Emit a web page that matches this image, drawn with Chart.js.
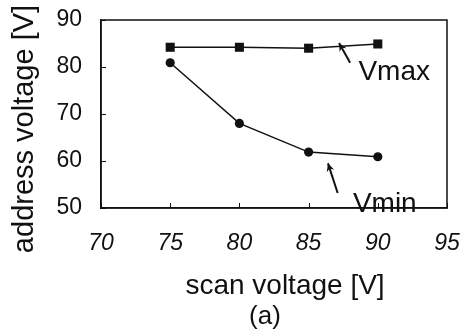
<!DOCTYPE html>
<html>
<head>
<meta charset="utf-8">
<script src="https://cdn.jsdelivr.net/npm/chart.js@4/dist/chart.umd.min.js"></script>
<style>
html,body{margin:0;padding:0;background:#fff;}
#wrap{width:465px;height:334px;}
</style>
</head>
<body>
<div id="wrap"><canvas id="c" width="465" height="334"></canvas></div>
<script>
// Data
const scanVoltage = [75, 80, 85, 90];
const vmaxValues = [84.2, 84.2, 84.0, 84.9];
const vminValues = [80.9, 68.0, 61.9, 60.9];
const xTicks = [70, 75, 80, 85, 90, 95];
const yTicks = [50, 60, 70, 80, 90];
const xTitle = 'scan voltage [V]';
const yTitle = 'address voltage [V]';
const subLabel = '(a)';
// Annotation labels and arrows (data coordinates)
const annoLabels = ['Vmax', 'Vmin'];
const annoLabelPos = [[88.6, 77.2], [88.2, 49.15]];
const arrowTails = [[88.0, 80.9], [87.1, 53.2]];
const arrowTips = [[87.2, 85.1], [86.4, 59.5]];

const FONT = '"Liberation Sans", Arial, sans-serif';
const INK = '#111';

const framePlugin = {
  id: 'frame',
  afterDraw(chart) {
    const {ctx, chartArea: a, scales: {x, y}} = chart;
    ctx.save();
    ctx.strokeStyle = INK;
    ctx.lineWidth = 1.5;
    ctx.strokeRect(a.left, a.top, a.right - a.left, a.bottom - a.top);
    // inward tick marks
    ctx.lineWidth = 1;
    xTicks.forEach(v => {
      const px = Math.round(x.getPixelForValue(v)) + 0.5;
      ctx.beginPath(); ctx.moveTo(px, a.bottom); ctx.lineTo(px, a.bottom - 5); ctx.stroke();
    });
    yTicks.forEach(v => {
      const py = Math.round(y.getPixelForValue(v)) + 0.5;
      ctx.beginPath(); ctx.moveTo(a.left, py); ctx.lineTo(a.left + 5, py); ctx.stroke();
    });
    // arrows
    ctx.lineWidth = 2;
    arrowTails.forEach((t, i) => {
      const x0 = x.getPixelForValue(t[0]), y0 = y.getPixelForValue(t[1]);
      const x1 = x.getPixelForValue(arrowTips[i][0]), y1 = y.getPixelForValue(arrowTips[i][1]);
      ctx.beginPath(); ctx.moveTo(x0, y0); ctx.lineTo(x1, y1); ctx.stroke();
      const ang = Math.atan2(y1 - y0, x1 - x0);
      const hl = 9, hw = 0.45;
      ctx.beginPath();
      ctx.moveTo(x1, y1);
      ctx.lineTo(x1 - hl * Math.cos(ang - hw), y1 - hl * Math.sin(ang - hw));
      ctx.lineTo(x1 - hl * 0.6 * Math.cos(ang), y1 - hl * 0.6 * Math.sin(ang));
      ctx.lineTo(x1 - hl * Math.cos(ang + hw), y1 - hl * Math.sin(ang + hw));
      ctx.closePath();
      ctx.fillStyle = INK;
      ctx.fill();
    });
    // annotation labels
    ctx.fillStyle = INK;
    ctx.font = '28px ' + FONT;
    ctx.textAlign = 'left';
    ctx.textBaseline = 'alphabetic';
    annoLabels.forEach((s, i) => {
      ctx.fillText(s, x.getPixelForValue(annoLabelPos[i][0]), y.getPixelForValue(annoLabelPos[i][1]));
    });
    // x title and sub label
    const cx = (a.left + a.right) / 2;
    ctx.textAlign = 'center';
    ctx.font = '28px ' + FONT;
    ctx.fillText(xTitle, cx + 11, a.bottom + 86);
    ctx.font = '26px ' + FONT;
    ctx.fillText(subLabel, cx - 9, a.bottom + 116);
    // y title
    ctx.save();
    ctx.translate(a.left - 76, (a.top + a.bottom) / 2 + 15);
    ctx.rotate(-Math.PI / 2);
    ctx.textBaseline = 'middle';
    ctx.font = '29px ' + FONT;
    ctx.fillText(yTitle, 0, 0);
    ctx.restore();
    ctx.restore();
  }
};

new Chart(document.getElementById('c'), {
  type: 'line',
  data: {
    datasets: [
      {
        label: 'Vmax',
        data: scanVoltage.map((v, i) => ({x: v, y: vmaxValues[i]})),
        borderColor: INK, backgroundColor: INK, borderWidth: 1.5,
        pointStyle: 'rect', pointRadius: 6.4, pointBorderWidth: 0,
        tension: 0
      },
      {
        label: 'Vmin',
        data: scanVoltage.map((v, i) => ({x: v, y: vminValues[i]})),
        borderColor: INK, backgroundColor: INK, borderWidth: 1.5,
        pointStyle: 'circle', pointRadius: 4.6, pointBorderWidth: 0,
        tension: 0
      }
    ]
  },
  options: {
    responsive: false,
    animation: false,
    layout: {padding: {left: 0, right: 18, top: 20, bottom: 0}},
    plugins: {legend: {display: false}, tooltip: {enabled: false}},
    scales: {
      x: {
        type: 'linear', min: 70, max: 95,
        afterBuildTicks(s) { s.ticks = xTicks.map(v => ({value: v})); },
        afterFit(s) { s.height = 126; s.paddingLeft = 0; s.paddingRight = 0; },
        grid: {display: false, drawTicks: false},
        border: {display: true, color: INK, width: 1.5},
        ticks: {color: INK, padding: 22, font: {family: FONT, size: 23, style: 'italic'}, maxRotation: 0,
          callback: v => String(v)}
      },
      y: {
        type: 'linear', min: 50, max: 90,
        afterBuildTicks(s) { s.ticks = yTicks.map(v => ({value: v})); },
        afterFit(s) { s.width = 101; s.paddingTop = 0; s.paddingBottom = 0; },
        grid: {display: false, drawTicks: false},
        border: {display: true, color: INK, width: 1.5},
        ticks: {color: INK, padding: 19, font: {family: FONT, size: 23}, callback: v => String(v)},
        title: {display: false}
      }
    }
  },
  plugins: [framePlugin]
});
</script>
</body>
</html>
